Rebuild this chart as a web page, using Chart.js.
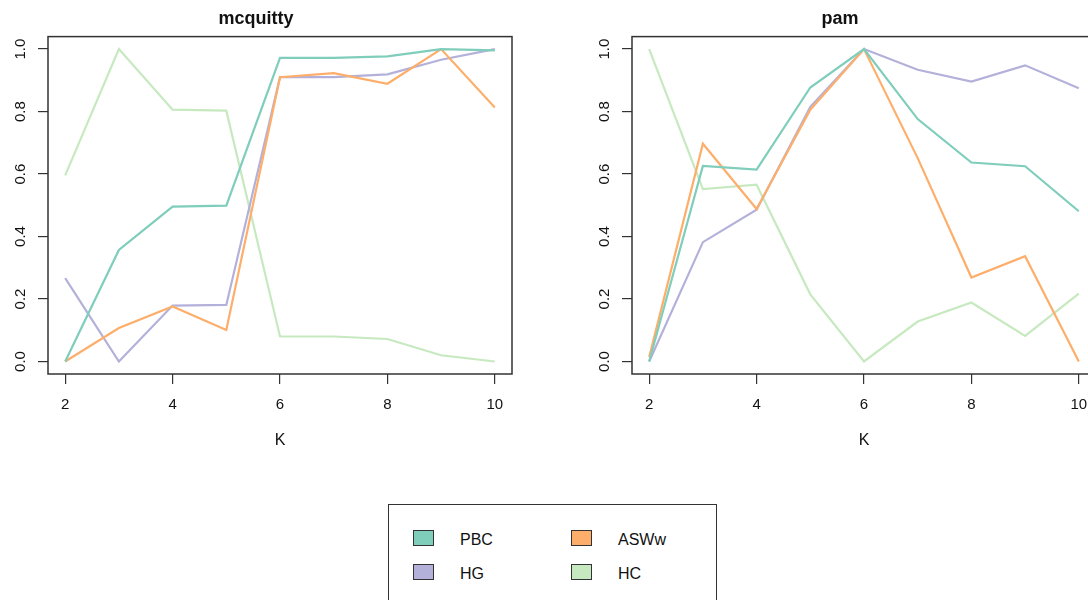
<!DOCTYPE html>
<html>
<head>
<meta charset="utf-8">
<title>mcquitty / pam</title>
<script src="https://cdn.jsdelivr.net/npm/chart.js@4.4.1/dist/chart.umd.min.js"></script>
<style>
  html, body { margin: 0; padding: 0; background: #fff; }
  body { position: relative; width: 1088px; height: 600px; overflow: hidden; font-family: "Liberation Sans", Arial, sans-serif; }
  canvas { position: absolute; top: 0; }
  #left { left: 0; }
  #right { left: 584px; }
  #legend { position: absolute; left: 388px; top: 504px; width: 329px; height: 120px; border: 1px solid #333; box-sizing: border-box; }
  .item { position: absolute; font-size: 16px; color: #111; line-height: 16px; }
  .swatch { position: absolute; width: 19px; height: 14px; border: 1.5px solid #333; }
</style>
</head>
<body>
<canvas id="left" width="560" height="460"></canvas>
<canvas id="right" width="560" height="460"></canvas>
<div id="legend"></div>

<script>
'use strict';

// *Data* - K values and the four indices for each method
let kValues = [2, 3, 4, 5, 6, 7, 8, 9, 10];
let kTicks = [2, 4, 6, 8, 10];
let yTicks = [0, 0.2, 0.4, 0.6, 0.8, 1.0];

let seriesNames = ['PBC', 'ASWw', 'HG', 'HC'];
let seriesColors = ['#7fcdbb', '#fdae6b', '#b3b1da', '#c7e9c0'];

let mcquittyPBC = [0.000, 0.357, 0.496, 0.499, 0.972, 0.972, 0.977, 1.000, 0.996];
let mcquittyASWw = [0.000, 0.107, 0.176, 0.101, 0.910, 0.923, 0.889, 1.000, 0.813];
let mcquittyHG = [0.267, 0.000, 0.179, 0.181, 0.910, 0.910, 0.919, 0.966, 1.000];
let mcquittyHC = [0.596, 1.000, 0.806, 0.803, 0.080, 0.080, 0.072, 0.020, 0.000];

let pamPBC = [0.000, 0.626, 0.614, 0.877, 1.000, 0.776, 0.637, 0.625, 0.481];
let pamASWw = [0.014, 0.697, 0.488, 0.806, 1.000, 0.651, 0.269, 0.337, 0.000];
let pamHG = [0.000, 0.382, 0.486, 0.815, 1.000, 0.934, 0.896, 0.948, 0.875];
let pamHC = [1.000, 0.552, 0.566, 0.215, 0.000, 0.128, 0.189, 0.082, 0.217];

// *Styles*
const fontFamily = '"Liberation Sans", Arial, sans-serif';
const textColor = '#111';
const axisColor = '#333';

// box round the plot region, like R's box()
const boxPlugin = {
  id: 'plotBox',
  afterDatasetsDraw(chart) {
    const a = chart.chartArea;
    const c = chart.ctx;
    c.save();
    c.strokeStyle = axisColor;
    c.lineWidth = 1.5;
    c.strokeRect(a.left, a.top, a.right - a.left, a.bottom - a.top);
    c.restore();
  }
};

function toPoints(values) {
  return kValues.map((k, i) => ({ x: k, y: values[i] }));
}

function makeChart(canvasId, title, seriesList) {
  let datasets = seriesList.map((values, i) => ({
    label: seriesNames[i],
    data: toPoints(values),
    borderColor: seriesColors[i],
    backgroundColor: seriesColors[i],
    borderWidth: 2.2,
    pointRadius: 0,
    tension: 0,
    fill: false
  }));

  return new Chart(document.getElementById(canvasId), {
    type: 'line',
    data: { datasets: datasets },
    plugins: [boxPlugin],
    options: {
      responsive: false,
      animation: false,
      layout: { padding: { left: 0, right: 48, top: 0, bottom: 0 } },
      plugins: {
        legend: { display: false },
        tooltip: { enabled: false },
        title: {
          display: true,
          text: title,
          color: textColor,
          font: { family: fontFamily, size: 18, weight: 'bold' },
          padding: { top: 8, bottom: 7 }
        }
      },
      scales: {
        x: {
          type: 'linear',
          min: 1.68,
          max: 10.32,
          afterBuildTicks: s => { s.ticks = kTicks.map(v => ({ value: v })); },
          afterFit: s => { s.height = 86; s.paddingLeft = 0; s.paddingRight = 0; },
          border: { display: false },
          grid: { drawOnChartArea: false, tickLength: 10, color: axisColor, lineWidth: 1.2 },
          ticks: { color: textColor, font: { family: fontFamily, size: 15 }, padding: 12, maxRotation: 0 },
          title: {
            display: true,
            text: 'K',
            color: textColor,
            font: { family: fontFamily, size: 16 },
            padding: { top: 0, bottom: 10 }
          }
        },
        y: {
          type: 'linear',
          min: -0.04,
          max: 1.04,
          afterBuildTicks: s => { s.ticks = yTicks.map(v => ({ value: v })); },
          afterFit: s => { s.width = 48; s.paddingTop = 0; s.paddingBottom = 0; },
          border: { display: false },
          grid: { drawOnChartArea: false, tickLength: 10, color: axisColor, lineWidth: 1.2 },
          ticks: {
            color: textColor,
            font: { family: fontFamily, size: 15 },
            minRotation: 90,
            maxRotation: 90,
            crossAlign: 'center',
            padding: 7,
            callback: v => Number(v).toFixed(1)
          }
        }
      }
    }
  });
}

makeChart('left', 'mcquitty', [mcquittyPBC, mcquittyASWw, mcquittyHG, mcquittyHC]);
makeChart('right', 'pam', [pamPBC, pamASWw, pamHG, pamHC]);

// *Legend* - two columns: PBC / HG on the left, ASWw / HC on the right
let legend = document.getElementById('legend');
let legendOrder = ['PBC', 'ASWw', 'HG', 'HC'];
for (let j = 0; j < legendOrder.length; j++) {
  let idx = seriesNames.indexOf(legendOrder[j]);
  let col = j % 2;
  let row = Math.floor(j / 2);
  let sw = document.createElement('div');
  sw.className = 'swatch';
  sw.style.left = (24 + col * 158) + 'px';
  sw.style.top = (25 + row * 34) + 'px';
  sw.style.background = seriesColors[idx];
  legend.appendChild(sw);
  let tx = document.createElement('div');
  tx.className = 'item';
  tx.style.left = (71 + col * 158) + 'px';
  tx.style.top = (27 + row * 34) + 'px';
  tx.textContent = legendOrder[j];
  legend.appendChild(tx);
}
</script>
</body>
</html>
